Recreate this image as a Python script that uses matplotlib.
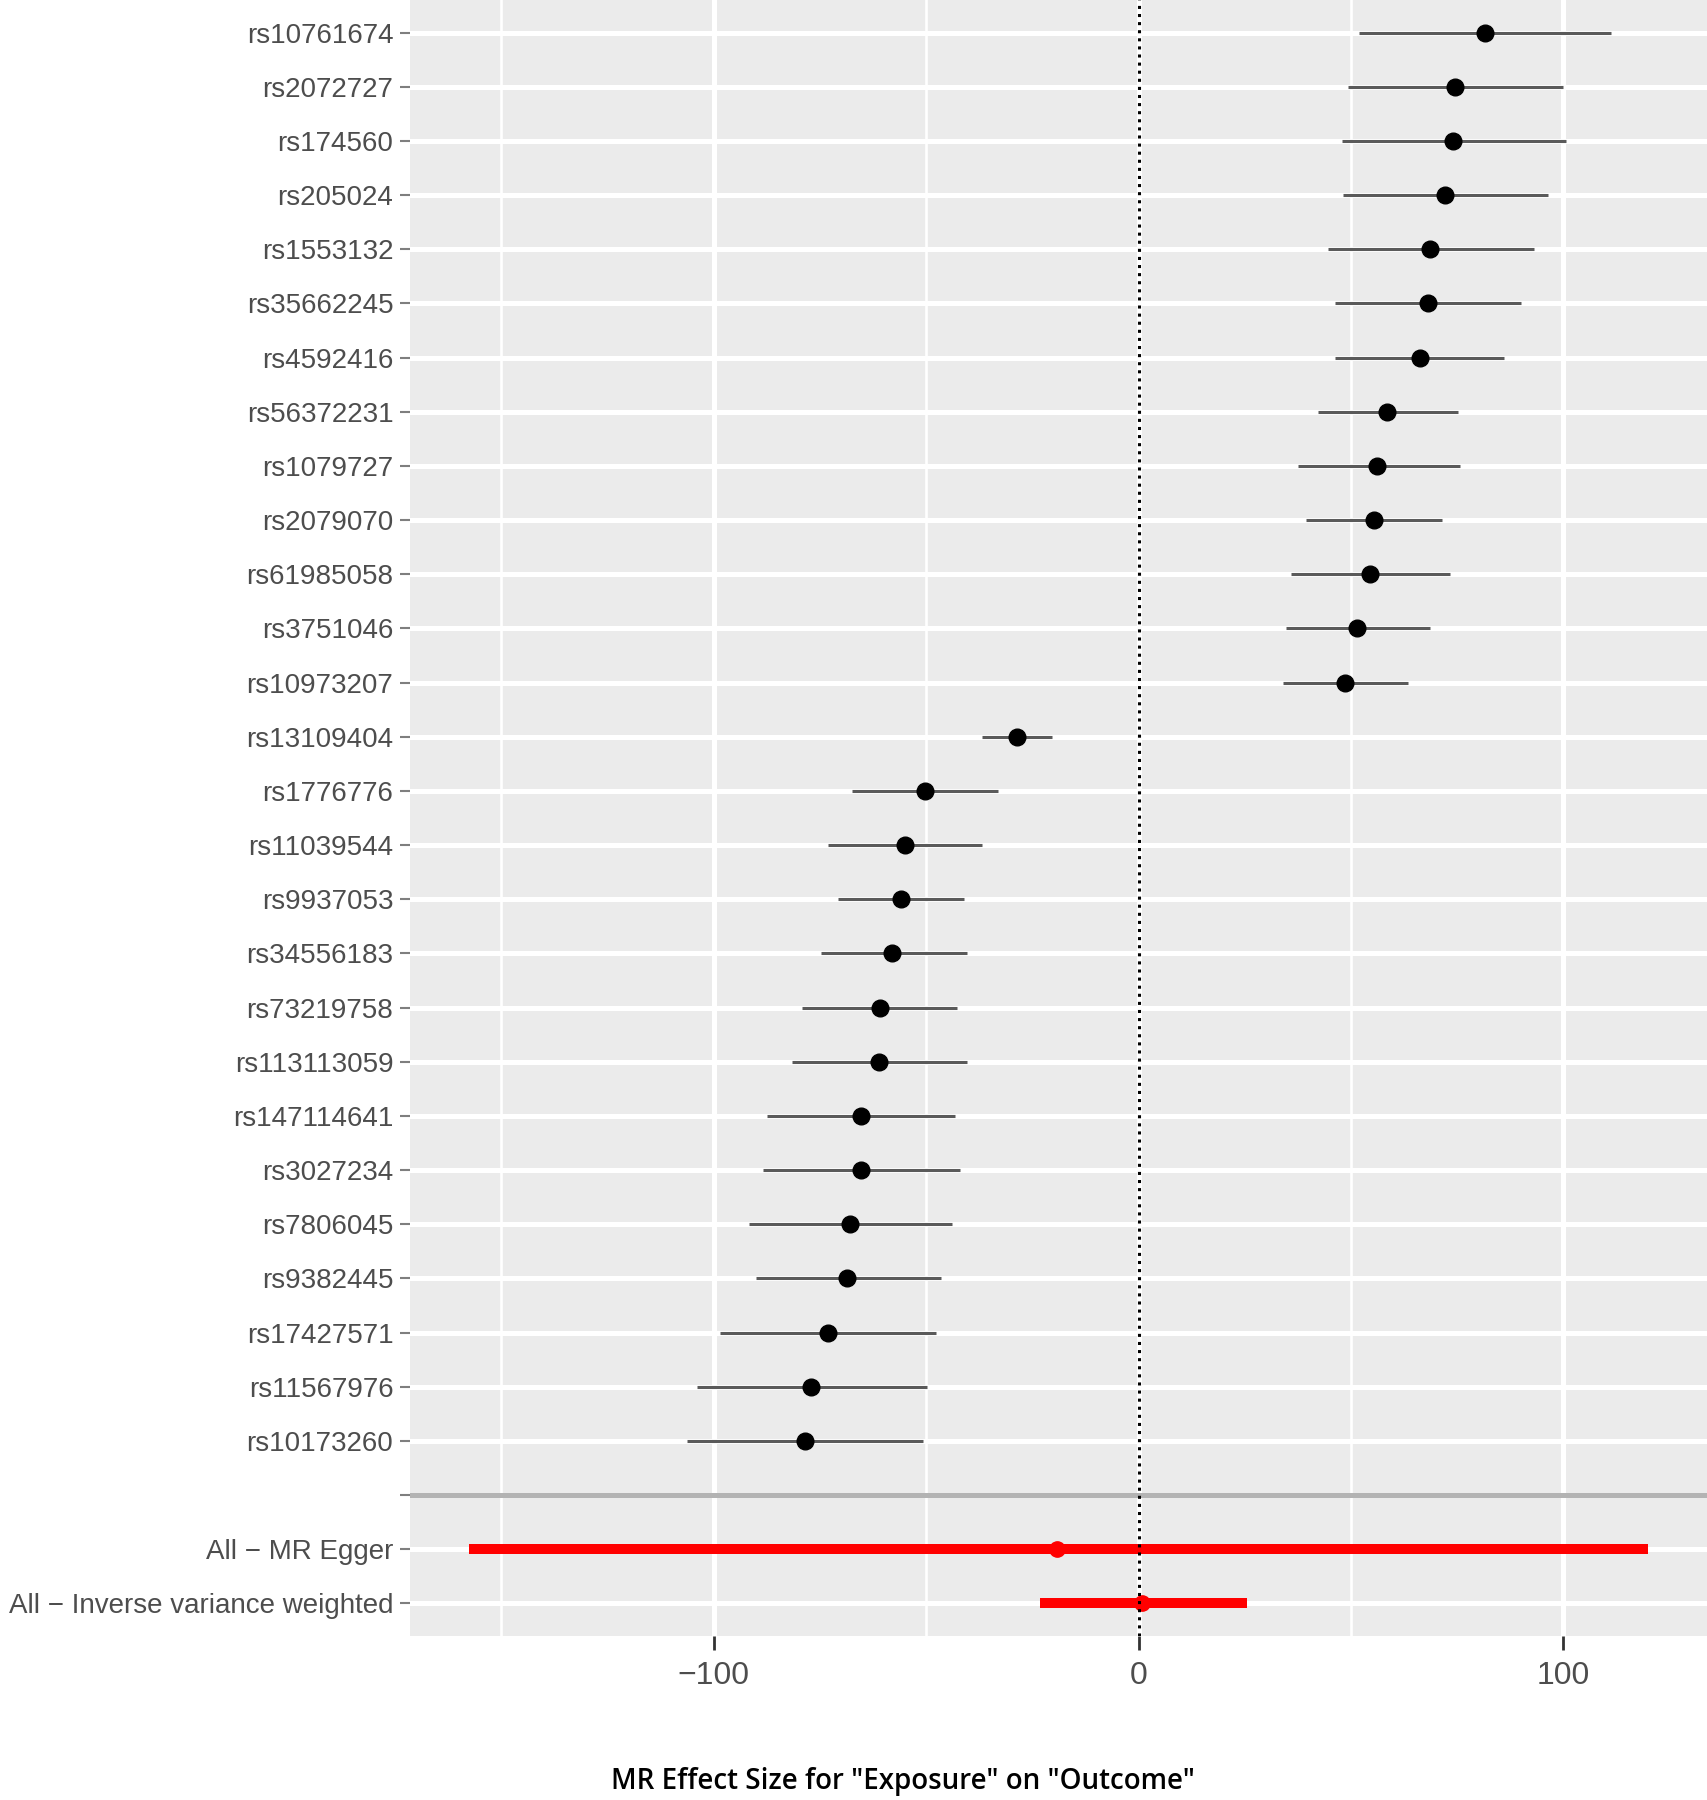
import numpy as np
import matplotlib
matplotlib.use("Agg")
import matplotlib.pyplot as plt

# single SNP estimates (top to bottom)
snps = ["rs10761674", "rs2072727", "rs174560", "rs205024", "rs1553132",
        "rs35662245", "rs4592416", "rs56372231", "rs1079727", "rs2079070",
        "rs61985058", "rs3751046", "rs10973207", "rs13109404", "rs1776776",
        "rs11039544", "rs9937053", "rs34556183", "rs73219758", "rs113113059",
        "rs147114641", "rs3027234", "rs7806045", "rs9382445", "rs17427571",
        "rs11567976", "rs10173260"]
snp_b = [81.6, 74.5, 74.1, 72.0, 68.5, 68.0, 66.3, 58.5, 56.1, 55.3, 54.5,
         51.5, 48.5, -28.5, -50.2, -55.0, -55.9, -58.0, -60.8, -61.1, -65.3,
         -65.3, -68.0, -68.6, -73.2, -77.0, -78.6]
snp_lo = [51.9, 49.3, 47.8, 48.0, 44.5, 46.2, 46.2, 42.3, 37.4, 39.3, 35.8,
          34.7, 34.1, -36.8, -67.4, -73.1, -70.7, -74.8, -79.3, -81.6, -87.5,
          -88.3, -91.6, -90.0, -98.6, -104.0, -106.2]
snp_hi = [111.1, 99.8, 100.5, 96.4, 93.0, 89.9, 86.1, 75.1, 75.6, 71.3, 73.4,
          68.6, 63.4, -20.3, -33.2, -36.8, -41.0, -40.3, -42.7, -40.3, -43.1,
          -42.0, -43.9, -46.6, -47.7, -49.9, -50.7]

# combined estimates
methods = ["All \u2212 MR Egger", "All \u2212 Inverse variance weighted"]
meth_b = [-19.1, 0.8]
meth_lo = [-157.6, -23.3]
meth_hi = [119.9, 25.6]

labels = snps + [""] + methods
n = len(labels)
y_snp = np.arange(len(snps))
y_sep = len(snps)
y_meth = np.arange(len(snps) + 1, n)

fig = plt.figure(figsize=(17.07, 18), dpi=100)
ax = fig.add_axes([410 / 1707, 1 - 1636 / 1800, 1 - 410 / 1707, 1636 / 1800])
ax.set_facecolor("#EBEBEB")

# x range like ggplot (5% expansion of the data range)
xmin = min(snp_lo + meth_lo)
xmax = max(snp_hi + meth_hi)
pad = 0.05 * (xmax - xmin)
ax.set_xlim(xmin - pad, xmax + pad)
ax.set_ylim(n - 1 + 0.6, -0.6)

# grid
for xv in [-150, -50, 50]:
    ax.axvline(xv, color="white", lw=1.9, zorder=0)
for xv in [-100, 0, 100]:
    ax.axvline(xv, color="white", lw=3.6, zorder=0)
for yv in range(n):
    ax.axhline(yv, color="white", lw=3.6, zorder=0)

ax.hlines(y_snp, snp_lo, snp_hi, color="#5a5a5a", lw=2.2, zorder=2)
ax.plot(snp_b, y_snp, "o", color="black", ms=12, zorder=3)

ax.axhline(y_sep, color="#b3b3b3", lw=3.6, zorder=2)

ax.hlines(y_meth, meth_lo, meth_hi, color="#ff0000", lw=7.2, zorder=2)
ax.plot(meth_b, y_meth, "o", color="#ff0000", ms=11, zorder=3)

ax.axvline(0, color="black", lw=2.2, ls=":", zorder=4)

ax.set_yticks(np.arange(n))
ax.set_yticklabels(labels, fontsize=20, color="#4D4D4D", family="Liberation Sans")
ax.set_xticks([-100, 0, 100])
ax.set_xticklabels(["\u2212100", "0", "100"], fontsize=23, color="#4D4D4D",
                   family="Liberation Sans")
ax.tick_params(axis="y", length=7, width=1.5, color="#7f7f7f", pad=5)
ax.tick_params(axis="x", length=10, width=2, color="#333333", pad=8)
for s in ax.spines.values():
    s.set_visible(False)

fig.text(903 / 1707, 1 - 1782 / 1800, 'MR Effect Size for "Exposure" on "Outcome"',
         ha="center", va="center", fontsize=20, family="Open Sans",
         fontweight="semibold", color="black")

fig.savefig("out.png", dpi=100)
